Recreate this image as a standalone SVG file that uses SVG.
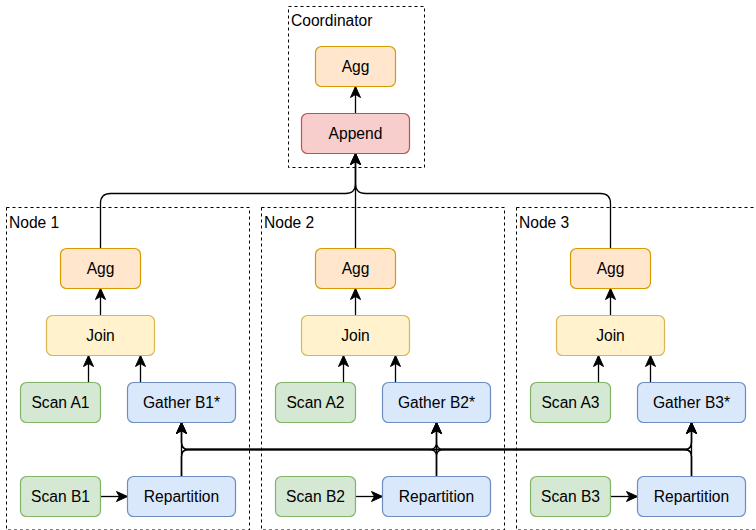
<svg xmlns="http://www.w3.org/2000/svg" width="756" height="530" viewBox="0 0 756 530">
  <defs>
    <marker id="arrow" markerUnits="userSpaceOnUse" markerWidth="14" markerHeight="14" viewBox="-12 -7 14 14" refX="0" refY="0" orient="auto">
      <path d="M0,0 L-11,-5 L-8,0 L-11,5 Z" fill="#000" stroke="#000" stroke-width="1"/>
    </marker>
  </defs>
  <style>
    text { font-family: "Liberation Sans", Arial, Helvetica, sans-serif; font-size: 15.6px; fill: #000; }
    .c { text-anchor: middle; }
    .group { fill: none; stroke: #000; stroke-width: 1; stroke-dasharray: 3 3; }
    .orange { fill: #ffe6cc; stroke: #d79b00; }
    .red { fill: #f8cecc; stroke: #b85450; }
    .yellow { fill: #fff2cc; stroke: #d6b656; }
    .green { fill: #d5e8d4; stroke: #82b366; }
    .blue { fill: #dae8fc; stroke: #6c8ebf; }
    .box { stroke-width: 1.2; }
    .edge { fill: none; stroke: #000; stroke-width: 1.3; marker-end: url(#arrow); }
  </style>

  <rect width="756" height="530" fill="#fff"/>

  <!-- container frames -->
  <g id="coordinator">
    <rect class="group" x="288.5" y="6.5" width="136" height="161"/>
    <text x="291" y="26">Coordinator</text>
  </g>
  <g id="node1">
    <rect class="group" x="6.5" y="207.5" width="243" height="322.5"/>
    <text x="9" y="228">Node 1</text>
  </g>
  <g id="node2">
    <rect class="group" x="261.5" y="207.5" width="243" height="322.5"/>
    <text x="264" y="228">Node 2</text>
  </g>
  <g id="node3">
    <rect class="group" x="516.5" y="207.5" width="243" height="322.5"/>
    <text x="519" y="228">Node 3</text>
  </g>

  <!-- connectors -->
  <g id="connectors">
    <!-- coordinator -->
    <path class="edge" d="M355.5,113.5 V86.5"/>
    <path class="edge" d="M100.5,248.5 V203.5 Q100.5,193.5 110.5,193.5 H345.5 Q355.5,193.5 355.5,183.5 V153.5"/>
    <path class="edge" d="M355.5,248.5 V153.5"/>
    <path class="edge" d="M610.5,248.5 V203.5 Q610.5,193.5 600.5,193.5 H365.5 Q355.5,193.5 355.5,183.5 V153.5"/>

    <!-- node 1 -->
    <path class="edge" d="M100.5,315.5 V288.5"/>
    <path class="edge" d="M88.5,382.5 V355.5"/>
    <path class="edge" d="M140.5,382.5 V355.5"/>
    <path class="edge" d="M100.5,496.5 H127.5"/>
    <!-- node 2 -->
    <path class="edge" d="M355.5,315.5 V288.5"/>
    <path class="edge" d="M343.5,382.5 V355.5"/>
    <path class="edge" d="M395.5,382.5 V355.5"/>
    <path class="edge" d="M355.5,496.5 H382.5"/>
    <!-- node 3 -->
    <path class="edge" d="M610.5,315.5 V288.5"/>
    <path class="edge" d="M598.5,382.5 V355.5"/>
    <path class="edge" d="M650.5,382.5 V355.5"/>
    <path class="edge" d="M610.5,496.5 H637.5"/>

    <!-- repartition shuffle: every repartition feeds every gather -->
    <path class="edge" d="M181.5,476.5 V422.5"/>
    <path class="edge" d="M181.5,476.5 V456.5 Q181.5,449.5 188.5,449.5 H429.5 Q436.5,449.5 436.5,442.5 V422.5"/>
    <path class="edge" d="M181.5,476.5 V456.5 Q181.5,449.5 188.5,449.5 H684.5 Q691.5,449.5 691.5,442.5 V422.5"/>
    <path class="edge" d="M436.5,476.5 V422.5"/>
    <path class="edge" d="M436.5,476.5 V456.5 Q436.5,449.5 429.5,449.5 H188.5 Q181.5,449.5 181.5,442.5 V422.5"/>
    <path class="edge" d="M436.5,476.5 V456.5 Q436.5,449.5 443.5,449.5 H684.5 Q691.5,449.5 691.5,442.5 V422.5"/>
    <path class="edge" d="M691.5,476.5 V422.5"/>
    <path class="edge" d="M691.5,476.5 V456.5 Q691.5,449.5 684.5,449.5 H188.5 Q181.5,449.5 181.5,442.5 V422.5"/>
    <path class="edge" d="M691.5,476.5 V456.5 Q691.5,449.5 684.5,449.5 H443.5 Q436.5,449.5 436.5,442.5 V422.5"/>
  </g>

  <!-- coordinator operators -->
  <g id="coord-agg">
    <rect class="box orange" x="315.5" y="46.5" width="80" height="40" rx="6"/>
    <text class="c" x="355.5" y="72">Agg</text>
  </g>
  <g id="coord-append">
    <rect class="box red" x="301.5" y="113.5" width="108" height="40" rx="6"/>
    <text class="c" x="355.5" y="139">Append</text>
  </g>

  <!-- node 1 operators -->
  <g id="n1-agg">
    <rect class="box orange" x="60.5" y="248.5" width="80" height="40" rx="6"/>
    <text class="c" x="100.5" y="274">Agg</text>
  </g>
  <g id="n1-join">
    <rect class="box yellow" x="46.5" y="315.5" width="108" height="40" rx="6"/>
    <text class="c" x="100.5" y="341">Join</text>
  </g>
  <g id="n1-scan-a">
    <rect class="box green" x="20.5" y="382.5" width="80" height="40" rx="6"/>
    <text class="c" x="60.5" y="408">Scan A1</text>
  </g>
  <g id="n1-gather">
    <rect class="box blue" x="127.5" y="382.5" width="108" height="40" rx="6"/>
    <text class="c" x="181.5" y="408">Gather B1*</text>
  </g>
  <g id="n1-scan-b">
    <rect class="box green" x="20.5" y="476.5" width="80" height="40" rx="6"/>
    <text class="c" x="60.5" y="502">Scan B1</text>
  </g>
  <g id="n1-repartition">
    <rect class="box blue" x="127.5" y="476.5" width="108" height="40" rx="6"/>
    <text class="c" x="181.5" y="502">Repartition</text>
  </g>

  <!-- node 2 operators -->
  <g id="n2-agg">
    <rect class="box orange" x="315.5" y="248.5" width="80" height="40" rx="6"/>
    <text class="c" x="355.5" y="274">Agg</text>
  </g>
  <g id="n2-join">
    <rect class="box yellow" x="301.5" y="315.5" width="108" height="40" rx="6"/>
    <text class="c" x="355.5" y="341">Join</text>
  </g>
  <g id="n2-scan-a">
    <rect class="box green" x="275.5" y="382.5" width="80" height="40" rx="6"/>
    <text class="c" x="315.5" y="408">Scan A2</text>
  </g>
  <g id="n2-gather">
    <rect class="box blue" x="382.5" y="382.5" width="108" height="40" rx="6"/>
    <text class="c" x="436.5" y="408">Gather B2*</text>
  </g>
  <g id="n2-scan-b">
    <rect class="box green" x="275.5" y="476.5" width="80" height="40" rx="6"/>
    <text class="c" x="315.5" y="502">Scan B2</text>
  </g>
  <g id="n2-repartition">
    <rect class="box blue" x="382.5" y="476.5" width="108" height="40" rx="6"/>
    <text class="c" x="436.5" y="502">Repartition</text>
  </g>

  <!-- node 3 operators -->
  <g id="n3-agg">
    <rect class="box orange" x="570.5" y="248.5" width="80" height="40" rx="6"/>
    <text class="c" x="610.5" y="274">Agg</text>
  </g>
  <g id="n3-join">
    <rect class="box yellow" x="556.5" y="315.5" width="108" height="40" rx="6"/>
    <text class="c" x="610.5" y="341">Join</text>
  </g>
  <g id="n3-scan-a">
    <rect class="box green" x="530.5" y="382.5" width="80" height="40" rx="6"/>
    <text class="c" x="570.5" y="408">Scan A3</text>
  </g>
  <g id="n3-gather">
    <rect class="box blue" x="637.5" y="382.5" width="108" height="40" rx="6"/>
    <text class="c" x="691.5" y="408">Gather B3*</text>
  </g>
  <g id="n3-scan-b">
    <rect class="box green" x="530.5" y="476.5" width="80" height="40" rx="6"/>
    <text class="c" x="570.5" y="502">Scan B3</text>
  </g>
  <g id="n3-repartition">
    <rect class="box blue" x="637.5" y="476.5" width="108" height="40" rx="6"/>
    <text class="c" x="691.5" y="502">Repartition</text>
  </g>
</svg>
